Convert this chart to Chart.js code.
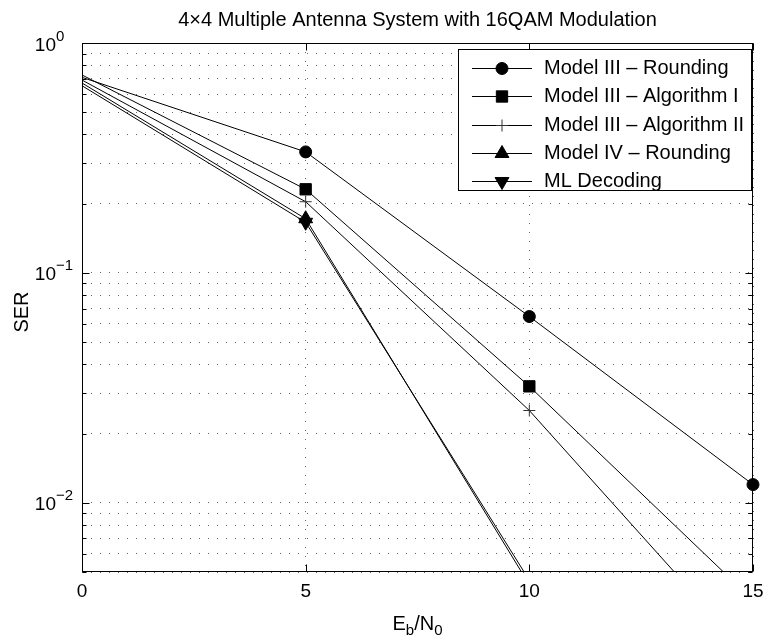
<!DOCTYPE html>
<html>
<head>
<meta charset="utf-8">
<script src="https://cdn.jsdelivr.net/npm/chart.js@4.4.0/dist/chart.umd.min.js"></script>
<style>
html, body { margin: 0; padding: 0; background: #fff; }
#wrap { width: 766px; height: 637px; }
</style>
</head>
<body>
<div id="wrap"><canvas id="chart"></canvas></div>
<script>
// data
const ebn0 = [0, 5, 10, 15];
const serModel3Rounding = [0.709, 0.336, 0.0646, 0.0120];
const serModel3Alg1 = [0.726, 0.231, 0.0321, 0.00377];
const serModel3Alg2 = [0.690, 0.204, 0.0252, 0.00208];
const serModel4Rounding = [0.670, 0.172, 0.0044];
const serML = [0.652, 0.166, 0.0046];

const seriesLabels = [
    'Model III \u2013 Rounding',
    'Model III \u2013 Algorithm I',
    'Model III \u2013 Algorithm II',
    'Model IV \u2013 Rounding',
    'ML Decoding'
];
const xTicks = [0, 5, 10, 15];
const yGrid = [0.005, 0.006, 0.007, 0.008, 0.009,
    0.01, 0.02, 0.03, 0.04, 0.05, 0.06, 0.07, 0.08, 0.09,
    0.1, 0.2, 0.3, 0.4, 0.5, 0.6, 0.7, 0.8, 0.9, 1];
const yMajor = [1, 0.1, 0.01];
const yExponents = ['0', '\u22121', '\u22122'];

const FONT = '"Liberation Sans", Arial, Helvetica, sans-serif';

function toPoints(ys) {
    return ys.map((y, i) => ({ x: ebn0[i], y: y }));
}

// common look of every series: thin black line, black markers
// (no marker on the first point, like the original)
function makeSeries(label, ys, style, size, rotation, edge) {
    return {
        label: label,
        data: toPoints(ys),
        borderColor: '#000',
        borderWidth: 1,
        backgroundColor: '#000',
        pointBackgroundColor: '#000',
        pointBorderColor: edge || '#000',
        pointBorderWidth: 1,
        pointStyle: style,
        pointRotation: rotation || 0,
        pointRadius: ys.map((v, i) => i === 0 ? 0 : size),
        markerSize: size,
        tension: 0,
        fill: false,
        clip: { left: 12, top: 12, right: 12, bottom: 0 }
    };
}

const datasets = [
    makeSeries(seriesLabels[0], serModel3Rounding, 'circle', 6),
    makeSeries(seriesLabels[1], serModel3Alg1, 'rect', 8),
    makeSeries(seriesLabels[2], serModel3Alg2, 'cross', 6, 0, '#333'),
    makeSeries(seriesLabels[3], serModel4Rounding, 'triangle', 8),
    makeSeries(seriesLabels[4], serML, 'triangle', 8, 180)
];

// frame, inward tick marks, tick labels, axis titles, legend (matlab style)
const matlabAxes = {
    id: 'matlabAxes',
    afterDraw(chart) {
        const ctx = chart.ctx;
        const a = chart.chartArea;
        const xs = chart.scales.x;
        const ys = chart.scales.y;
        const L = Math.round(a.left) + 0.5, R = Math.round(a.right) - 0.5;
        const T = Math.round(a.top) + 0.5, B = Math.round(a.bottom) - 0.5;

        ctx.save();
        ctx.strokeStyle = '#000';
        ctx.lineWidth = 1;

        // tick marks inside the box
        ctx.beginPath();
        yGrid.forEach(v => {
            const y = Math.round(ys.getPixelForValue(v)) + 0.5;
            const len = yMajor.includes(v) ? 7 : 4;
            ctx.moveTo(L, y); ctx.lineTo(L + len, y);
            ctx.moveTo(R, y); ctx.lineTo(R - len, y);
        });
        xTicks.forEach(v => {
            const x = Math.round(xs.getPixelForValue(v)) + 0.5;
            ctx.moveTo(x, B); ctx.lineTo(x, B - 7);
            ctx.moveTo(x, T); ctx.lineTo(x, T + 7);
        });
        ctx.stroke();

        // box
        ctx.strokeRect(L, T, R - L, B - T);

        ctx.fillStyle = '#000';
        // x tick labels
        ctx.font = '19px ' + FONT;
        ctx.textAlign = 'center';
        ctx.textBaseline = 'alphabetic';
        xTicks.forEach(v => {
            ctx.fillText(String(v), xs.getPixelForValue(v), B + 25);
        });

        // y tick labels 10^n
        yMajor.forEach((v, i) => {
            const y = ys.getPixelForValue(v);
            ctx.font = '19px ' + FONT;
            ctx.textAlign = 'right';
            ctx.fillText('10', 56, y + 7.5);
            ctx.font = '15px ' + FONT;
            ctx.textAlign = 'left';
            ctx.fillText(yExponents[i], 56, y - 2.5);
        });

        // title
        ctx.font = '20px ' + FONT;
        ctx.textAlign = 'center';
        ctx.fillText('4\u00d74 Multiple Antenna System with 16QAM Modulation', (a.left + a.right) / 2, 26);

        // y axis title
        ctx.save();
        ctx.translate(22, 312);
        ctx.rotate(-Math.PI / 2);
        ctx.textBaseline = 'middle';
        ctx.fillText('SER', 0, 0);
        ctx.restore();

        // x axis title E_b/N_0 with subscripts
        const parts = [['E', 20, 0], ['b', 15, 5], ['/N', 20, 0], ['0', 15, 5]];
        let total = 0;
        parts.forEach(p => { ctx.font = p[1] + 'px ' + FONT; total += ctx.measureText(p[0]).width; });
        let cx = (a.left + a.right) / 2 - total / 2;
        ctx.textAlign = 'left';
        parts.forEach(p => {
            ctx.font = p[1] + 'px ' + FONT;
            ctx.fillText(p[0], cx, 630 + p[2]);
            cx += ctx.measureText(p[0]).width;
        });

        // legend box
        const lx = 458, ly = Math.round(a.top) + 6, lw = Math.round(a.right) - 1 - 458, lh = 142;
        ctx.fillStyle = '#fff';
        ctx.fillRect(lx, ly, lw, lh);
        ctx.strokeStyle = '#000';
        ctx.strokeRect(lx + 0.5, ly + 0.5, lw - 1, lh - 1);
        chart.data.datasets.forEach((ds, i) => {
            const ry = Math.round(ly + 19 + i * 28.3) + 0.5;
            ctx.strokeStyle = '#000';
            ctx.lineWidth = 1;
            ctx.beginPath();
            ctx.moveTo(472, ry);
            ctx.lineTo(532, ry);
            ctx.stroke();
            ctx.fillStyle = ds.pointBackgroundColor;
            ctx.strokeStyle = ds.pointBorderColor;
            Chart.helpers.drawPoint(ctx, {
                pointStyle: ds.pointStyle,
                rotation: ds.pointRotation,
                radius: ds.markerSize,
                borderWidth: 1
            }, 502, ry);
            ctx.fillStyle = '#000';
            ctx.font = '20px ' + FONT;
            ctx.textAlign = 'left';
            ctx.textBaseline = 'middle';
            ctx.fillText(ds.label, 544, ry);
            ctx.textBaseline = 'alphabetic';
        });
        ctx.restore();
    }
};

const gridStyle = {
    color: 'rgba(0,0,0,0.6)',
    lineWidth: 1,
    drawTicks: false
};

new Chart(document.getElementById('chart'), {
    type: 'line',
    data: { datasets: datasets },
    options: {
        responsive: true,
        maintainAspectRatio: false,
        animation: false,
        events: [],
        layout: { padding: { left: 82, right: 13, top: 43, bottom: 65 } },
        plugins: {
            legend: { display: false },
            title: { display: false },
            tooltip: { enabled: false }
        },
        scales: {
            x: {
                type: 'linear',
                min: 0,
                max: 15,
                grid: gridStyle,
                border: { display: false, dash: [1, 8] },
                ticks: { display: false },
                afterBuildTicks: scale => { scale.ticks = xTicks.map(v => ({ value: v })); }
            },
            y: {
                type: 'logarithmic',
                min: 0.005,
                max: 1,
                grid: gridStyle,
                border: { display: false, dash: [1, 8] },
                ticks: { display: false },
                afterBuildTicks: scale => { scale.ticks = yGrid.map(v => ({ value: v })); }
            }
        }
    },
    plugins: [matlabAxes]
});
</script>
</body>
</html>
